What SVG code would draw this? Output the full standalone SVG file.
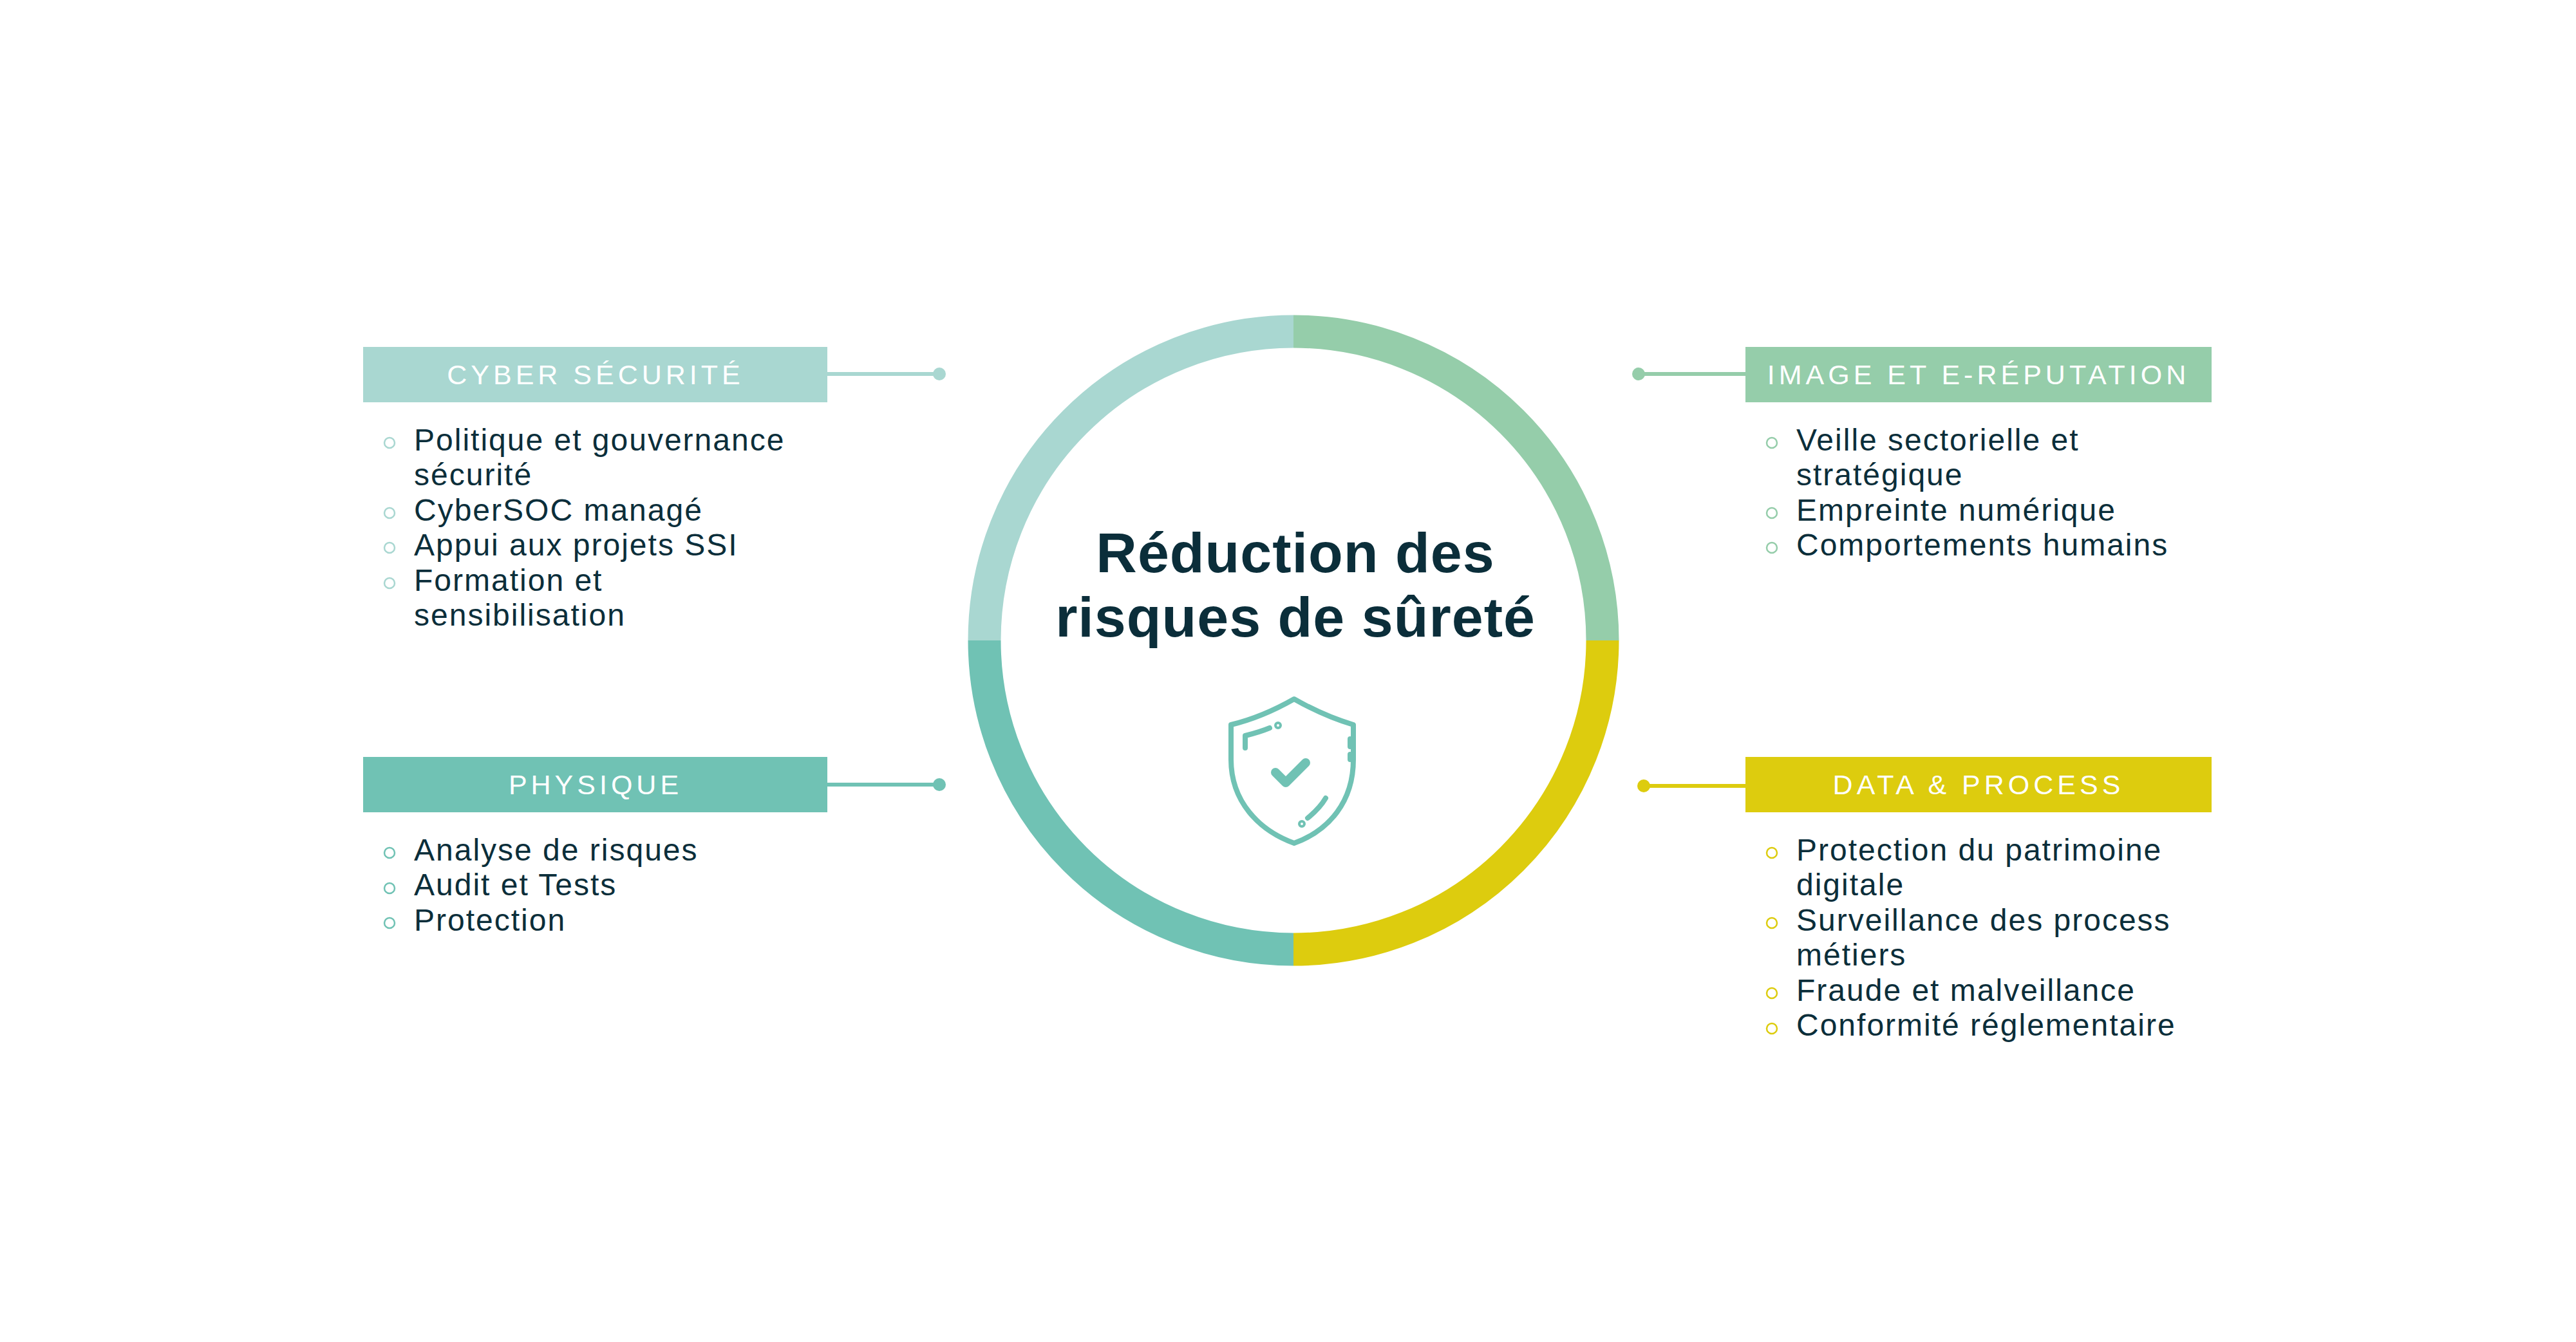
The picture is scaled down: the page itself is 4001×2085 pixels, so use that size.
<svg xmlns="http://www.w3.org/2000/svg" width="4001" height="2085" viewBox="0 0 4001 2085">
<style>
.hd{font-family:"Liberation Sans",Arial,sans-serif;font-size:43px;fill:#fff;letter-spacing:6px;text-anchor:middle}
.it{font-family:"Liberation Sans",Arial,sans-serif;font-size:48px;fill:#0B2E3A;letter-spacing:2px}
.ttl{font-family:"Liberation Sans",Arial,sans-serif;font-size:88px;font-weight:bold;fill:#0B2E3A;text-anchor:middle;letter-spacing:1px}
.b{fill:none;stroke-width:2.5}
</style>
<rect width="4001" height="2085" fill="#fff"/>
<g id="ring" fill="none" stroke-width="51">
<path d="M1529,995 A480,480 0 0 1 2009,515" stroke="#A9D7D1"/>
<path d="M2009,515 A480,480 0 0 1 2489,995" stroke="#95CDAA"/>
<path d="M2489,995 A480,480 0 0 1 2009,1475" stroke="#DDCC0E"/>
<path d="M2009,1475 A480,480 0 0 1 1529,995" stroke="#70C2B4"/>
</g>
<g id="center">
<text class="ttl" x="2012" y="889">Réduction des</text>
<text class="ttl" x="2012" y="989">risques de sûreté</text>
<g fill="none" stroke="#70C2B4" stroke-width="8" stroke-linecap="round" stroke-linejoin="round">
<path d="M2010,1086 C1975,1106 1945,1118 1912,1126 V1180 C1912,1245 1955,1290 2010,1310 C2065,1290 2102,1245 2102,1180 V1126 C2075,1118 2045,1106 2010,1086 Z"/>
<path d="M1934,1162 V1143 C1950,1139 1960,1136 1972,1131"/>
<circle cx="1985" cy="1127" r="2"/>
<path d="M2097,1148 V1160 M2097,1172 V1180"/>
<path d="M2059,1240 C2052,1252 2042,1262 2031,1271"/>
<circle cx="2022" cy="1280" r="2"/>
<path d="M1981,1200 L1997,1216 L2028,1185" stroke-width="14"/>
</g>
</g>
<g id="connectors">
<line x1="1285" y1="581" x2="1459" y2="581" stroke="#A9D7D1" stroke-width="6"/><circle cx="1459" cy="581" r="10" fill="#A9D7D1"/>
<line x1="1285" y1="1219" x2="1459" y2="1219" stroke="#70C2B4" stroke-width="6"/><circle cx="1459" cy="1219" r="10" fill="#70C2B4"/>
<line x1="2545" y1="581" x2="2711" y2="581" stroke="#95CDAA" stroke-width="6"/><circle cx="2545" cy="581" r="10" fill="#95CDAA"/>
<line x1="2545" y1="1221" x2="2711" y2="1221" stroke="#DDCC0E" stroke-width="6"/><circle cx="2553" cy="1221" r="10" fill="#DDCC0E"/>
</g>
<g id="cyber">
<rect x="564" y="539" width="721" height="86" fill="#A9D7D1"/>
<text class="hd" x="925" y="597">CYBER SÉCURITÉ</text>
<g class="b" stroke="#A9D7D1"><circle cx="605" cy="688" r="8"/><circle cx="605" cy="797" r="8"/><circle cx="605" cy="851" r="8"/><circle cx="605" cy="906" r="8"/></g>
<text class="it" x="643" y="700">Politique et gouvernance</text>
<text class="it" x="643" y="754">sécurité</text>
<text class="it" x="643" y="809">CyberSOC managé</text>
<text class="it" x="643" y="863">Appui aux projets SSI</text>
<text class="it" x="643" y="918">Formation et</text>
<text class="it" x="643" y="972">sensibilisation</text>
</g>
<g id="image">
<rect x="2711" y="539" width="724" height="86" fill="#95CDAA"/>
<text class="hd" x="3073" y="597">IMAGE ET E-RÉPUTATION</text>
<g class="b" stroke="#95CDAA"><circle cx="2752" cy="688" r="8"/><circle cx="2752" cy="797" r="8"/><circle cx="2752" cy="851" r="8"/></g>
<text class="it" x="2790" y="700">Veille sectorielle et</text>
<text class="it" x="2790" y="754">stratégique</text>
<text class="it" x="2790" y="809">Empreinte numérique</text>
<text class="it" x="2790" y="863">Comportements humains</text>
</g>
<g id="physique">
<rect x="564" y="1176" width="721" height="86" fill="#70C2B4"/>
<text class="hd" x="925" y="1234">PHYSIQUE</text>
<g class="b" stroke="#70C2B4"><circle cx="605" cy="1325" r="8"/><circle cx="605" cy="1380" r="8"/><circle cx="605" cy="1434" r="8"/></g>
<text class="it" x="643" y="1337">Analyse de risques</text>
<text class="it" x="643" y="1391">Audit et Tests</text>
<text class="it" x="643" y="1446">Protection</text>
</g>
<g id="data">
<rect x="2711" y="1176" width="724" height="86" fill="#DDCC0E"/>
<text class="hd" x="3073" y="1234">DATA &amp; PROCESS</text>
<g class="b" stroke="#DDCC0E"><circle cx="2752" cy="1325" r="8"/><circle cx="2752" cy="1434" r="8"/><circle cx="2752" cy="1543" r="8"/><circle cx="2752" cy="1598" r="8"/></g>
<text class="it" x="2790" y="1337">Protection du patrimoine</text>
<text class="it" x="2790" y="1391">digitale</text>
<text class="it" x="2790" y="1446">Surveillance des process</text>
<text class="it" x="2790" y="1500">métiers</text>
<text class="it" x="2790" y="1555">Fraude et malveillance</text>
<text class="it" x="2790" y="1609">Conformité réglementaire</text>
</g>
</svg>
